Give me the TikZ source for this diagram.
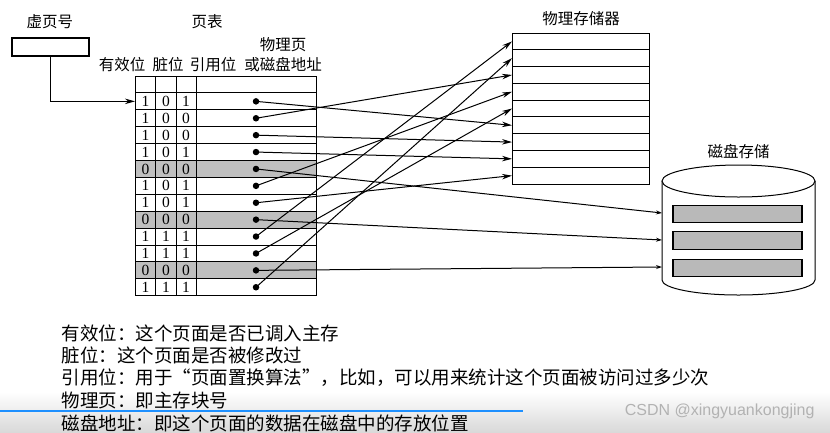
\documentclass[tikz,border=0pt]{standalone}
\usepackage{fontspec}
\setmainfont{Liberation Serif}
\newfontfamily\cjk{Noto Sans CJK SC}
\newfontfamily\wmfont{Liberation Sans}
\usetikzlibrary{arrows.meta}
\begin{document}
\begin{tikzpicture}[x=1pt,y=-1pt,line width=1pt,
  lbl/.style={font=\cjk\fontsize{15.5}{17}\selectfont,inner sep=0pt},
  note/.style={font=\cjk\fontsize{18.5}{20}\selectfont,inner sep=0pt,anchor=west},
  bit/.style={font=\fontsize{15.5}{16}\selectfont,inner sep=0pt},
  dotn/.style={circle,fill=black,inner sep=0pt,minimum size=6.5pt},
  arr/.style={-{Stealth[length=10pt,width=5.5pt]},line width=1pt},
  darr/.style={-{Stealth[length=6pt,width=4pt]},line width=1pt},
  slot/.style={draw,line width=1.4pt,fill=gray!55,minimum width=129pt,minimum height=17.5pt,inner sep=0pt}]
\useasboundingbox (0,0) rectangle (830,432);
\shade[top color=white,bottom color=gray!30] (0,392) rectangle (830,432);

% virtual page number
\node[lbl] (vplbl) at (50,22) {虚页号};
\node[draw,line width=1.4pt,minimum width=77pt,minimum height=18pt,inner sep=0pt] (vp) at (50.5,47) {};

% page table labels
\node[lbl] (ptlbl) at (207,22) {页表};
\node[lbl] (h4a) at (283,45) {物理页};
\node[lbl] (h1) at (122,65) {有效位};
\node[lbl] (h2) at (168,65) {脏位};
\node[lbl] (h3) at (213,65) {引用位};
\node[lbl] (h4) at (283,65) {或磁盘地址};

% gray rows
\foreach \r in {5,8,11}
  \fill[gray!50] (135,{76+16.9*\r}) rectangle (316,{76+16.9*(\r+1)});
% table grid
\draw (135,76) rectangle (316,295.7);
\foreach \r in {1,...,12}
  \draw (135,{76+16.9*\r}) -- (316,{76+16.9*\r});
\foreach \x in {155.5,176,196}
  \draw (\x,76) -- (\x,295.7);
% bits and dots
\foreach \r/\a/\b/\c in {1/1/0/1,2/1/0/0,3/1/0/0,4/1/0/1,5/0/0/0,6/1/0/1,7/1/0/1,8/0/0/0,9/1/1/1,10/1/1/1,11/0/0/0,12/1/1/1}{
  \node[bit] (a\r) at (145.5,{76+16.9*(\r+0.5)}) {\a};
  \node[bit] (b\r) at (166,{76+16.9*(\r+0.5)}) {\b};
  \node[bit] (c\r) at (186,{76+16.9*(\r+0.5)}) {\c};
  \node[dotn] (p\r) at (256,{76+16.9*(\r+0.5)}) {};
}
\coordinate (t1) at (135,{76+16.9*1.5});
\draw[arr] (vp.south) |- (t1);

% physical memory
\node[lbl] (memlbl) at (581,19) {物理存储器};
\draw (512,33) rectangle (649,184);
\foreach \j in {1,...,8}
  \draw (512,{33+16.78*\j}) -- (649,{33+16.78*\j});
\foreach \j in {1,...,9}
  \coordinate (m\j) at (512,{33+16.78*(\j-0.5)});

% disk
\node[lbl] (disklbl) at (738.5,152) {磁盘存储};
\filldraw[fill=white] (662,181) -- (662,280) arc[start angle=180,end angle=0,x radius=76.5,y radius=15] -- (815,181);
\draw[fill=white] (738.5,181) ellipse [x radius=76.5,y radius=16];
\node[slot] (s1) at (737.5,214) {};
\node[slot] (s2) at (737.5,240.5) {};
\node[slot] (s3) at (737.5,268) {};
\coordinate (d1) at (662,213);
\coordinate (d2) at (662,240);
\coordinate (d3) at (662,267);

% connectors
\draw[arr] (p1.center) -- (m6);
\draw[arr] (p2.center) -- (m3);
\draw[arr] (p3.center) -- (m7);
\draw[arr] (p4.center) -- (m8);
\draw[darr] (p5.center) -- (d1);
\draw[arr] (p6.center) -- (m4);
\draw[arr] (p7.center) -- (m9);
\draw[darr] (p8.center) -- (d2);
\draw[arr] (p9.center) -- (m1);
\draw[arr] (p10.center) -- (m5);
\draw[darr] (p11.center) -- (d3);
\draw[arr] (p12.center) -- (m2);

% notes
\node[note] (n1) at (61,333) {有效位：这个页面是否已调入主存};
\node[note] (n2) at (61,355.5) {脏位：这个页面是否被修改过};
\node[note] (n3) at (61,378) {引用位：用于“页面置换算法”，比如，可以用来统计这个页面被访问过多少次};
\node[note] (n4) at (61,400.5) {物理页：即主存块号};
\node[note] (n5) at (61,423) {磁盘地址：即这个页面的数据在磁盘中的存放位置};

% overlay
\draw[line width=2.5pt,color={rgb,255:red,30;green,144;blue,255}] (0,411) -- (523,411);
\node[font=\wmfont\fontsize{16}{18}\selectfont,text=gray!60,anchor=east,inner sep=0pt] (wm) at (815,411) {CSDN @xingyuankongjing};
\end{tikzpicture}
\end{document}
